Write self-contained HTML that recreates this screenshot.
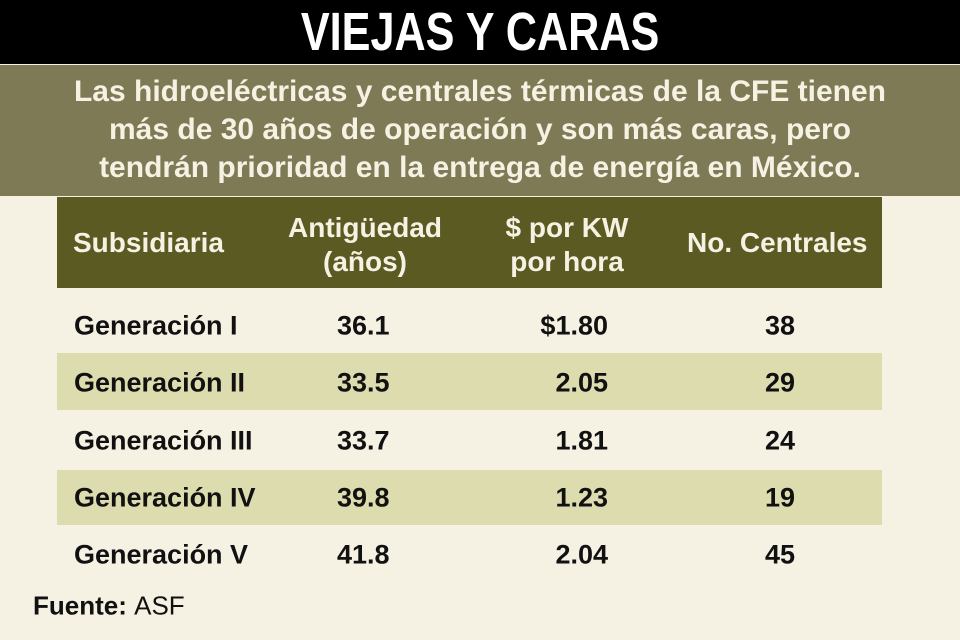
<!DOCTYPE html>
<html><head><meta charset="utf-8"><style>
body{margin:0;width:960px;height:640px;background:#f5f1e3;font-family:"Liberation Sans Narrow","Liberation Sans",sans-serif;font-weight:bold;position:relative;overflow:hidden}
.a{position:absolute}
#top{left:0;top:0;width:960px;height:64px;background:#000;color:#fff;font-size:54px;text-align:center;line-height:64px}
#top span{display:inline-block;transform:scaleX(0.8)}
#band{left:0;top:65px;width:960px;height:131px;background:#7d7a55;color:#f5f1e3;font-size:30px;text-align:center;line-height:38px;padding-top:8px;box-sizing:border-box}
#hd{left:57px;top:197px;width:825px;height:91px;background:#5a5a22;color:#f5f1e3;font-size:28px}
.stripe{left:57px;width:825px;background:#dcdcae}
.c{position:absolute;font-size:27px;color:#111;transform:translateY(-50%)}
</style></head><body>
<div class="a" id="top"><span>VIEJAS Y CARAS</span></div>
<div class="a" id="band">Las hidroeléctricas y centrales térmicas de la CFE tienen<br>más de 30 años de operación y son más caras, pero<br>tendrán prioridad en la entrega de energía en México.</div>
<div class="a" id="hd">
<div class="a" style="left:16px;top:30px">Subsidiaria</div>
<div class="a" style="left:228px;top:14px;width:160px;text-align:center;line-height:34px">Antigüedad<br>(años)</div>
<div class="a" style="left:430px;top:14px;width:160px;text-align:center;line-height:34px">$ por KW<br>por hora</div>
<div class="a" style="left:630px;top:30px">No. Centrales</div>
</div>
<div class="a stripe" style="top:353px;height:57px"></div>
<div class="a stripe" style="top:470px;height:55px"></div>
<div class="c" style="left:74px;top:326px">Generación I</div>
<div class="c" style="left:74px;top:383px">Generación II</div>
<div class="c" style="left:74px;top:441px">Generación III</div>
<div class="c" style="left:74px;top:498px">Generación IV</div>
<div class="c" style="left:74px;top:555px">Generación V</div>
<div class="c" style="left:337px;top:326px">36.1</div>
<div class="c" style="left:337px;top:383px">33.5</div>
<div class="c" style="left:337px;top:441px">33.7</div>
<div class="c" style="left:337px;top:498px">39.8</div>
<div class="c" style="left:337px;top:555px">41.8</div>
<div class="c" style="left:500px;width:108px;text-align:right;top:326px">$1.80</div>
<div class="c" style="left:500px;width:108px;text-align:right;top:383px">2.05</div>
<div class="c" style="left:500px;width:108px;text-align:right;top:441px">1.81</div>
<div class="c" style="left:500px;width:108px;text-align:right;top:498px">1.23</div>
<div class="c" style="left:500px;width:108px;text-align:right;top:555px">2.04</div>
<div class="c" style="left:740px;width:80px;text-align:center;top:326px">38</div>
<div class="c" style="left:740px;width:80px;text-align:center;top:383px">29</div>
<div class="c" style="left:740px;width:80px;text-align:center;top:441px">24</div>
<div class="c" style="left:740px;width:80px;text-align:center;top:498px">19</div>
<div class="c" style="left:740px;width:80px;text-align:center;top:555px">45</div>
<div class="c" style="left:33px;top:606px;font-size:26px">Fuente: <span style="font-weight:normal">ASF</span></div>
</body></html>
